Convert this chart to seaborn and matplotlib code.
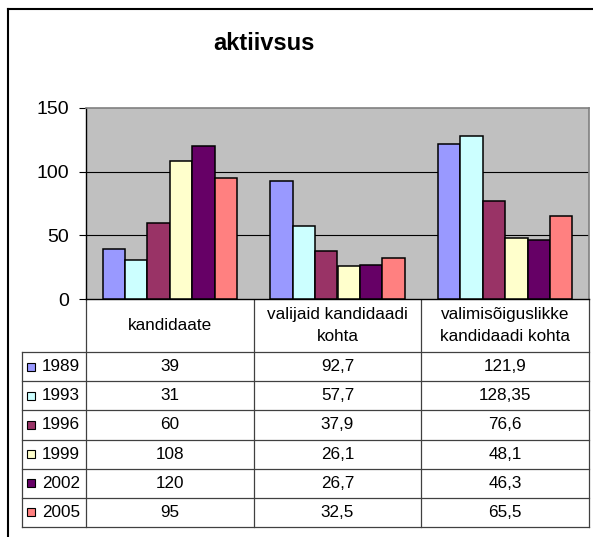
import numpy as np
import pandas as pd
import seaborn as sns
import matplotlib.pyplot as plt
from matplotlib.patches import Rectangle

plt.rcParams["font.family"] = ["Liberation Sans", "DejaVu Sans"]

W, H = 593, 537

categories = ["kandidaate", "valijaid kandidaadi\nkohta", "valimisõiguslikke\nkandidaadi kohta"]
years = ["1989", "1993", "1996", "1999", "2002", "2005"]
kandidaate = [39, 31, 60, 108, 120, 95]
valijaid = [92.7, 57.7, 37.9, 26.1, 26.7, 32.5]
valimisoiguslikke = [121.9, 128.35, 76.6, 48.1, 46.3, 65.5]
colors = ["#9999FF", "#CCFFFF", "#993366", "#FFFFCC", "#660066", "#FF8080"]

series = [kandidaate, valijaid, valimisoiguslikke]
df = pd.DataFrame({
    "kategooria": np.repeat(categories, len(years)),
    "aasta": years * len(categories),
    "vaartus": np.concatenate(series),
})

fig = plt.figure(figsize=(W / 100, H / 100), dpi=100)

# bar area, placed in pixel coords of the reference
x0, x1, ytop, ybot = 86, 589, 108, 299
ax = fig.add_axes([x0 / W, 1 - ybot / H, (x1 - x0) / W, (ybot - ytop) / H])
ax.set_facecolor("#C0C0C0")
sns.barplot(data=df, x="kategooria", y="vaartus", hue="aasta",
            order=categories, hue_order=years, palette=dict(zip(years, colors)),
            saturation=1, errorbar=None, edgecolor="black", linewidth=1.1,
            legend=False, ax=ax, zorder=3)
ax.set_ylim(0, 150)
ax.set_xlim(-0.5, 2.5)
ax.set_yticks([0, 50, 100, 150])
ax.tick_params(axis="y", labelsize=14, length=5, width=0.8, pad=7, color="black")
ax.tick_params(axis="x", bottom=False, labelbottom=False)
ax.set_xlabel("")
ax.set_ylabel("")
for v in [50, 100]:
    ax.axhline(v, color="black", lw=0.8, zorder=1)
for s in ["top", "right"]:
    ax.spines[s].set_color("#808080")
    ax.spines[s].set_linewidth(1.2)
for s in ["left", "bottom"]:
    ax.spines[s].set_color("black")
    ax.spines[s].set_linewidth(1)

# overlay in pixel coordinates for the frame, title and data table
ov = fig.add_axes([0, 0, 1, 1], zorder=-1)
ov.set_xlim(0, W)
ov.set_ylim(H, 0)
ov.axis("off")

ov.plot([8, 8], [9, H], color="black", lw=1.5)
ov.plot([8, W], [9, 9], color="black", lw=1.5)
ov.text(264, 44, "aktiivsus", ha="center", va="center", fontsize=17, fontweight="bold")

lc = "#404040"
cols = [x0 + (x1 - x0) * k / 3 for k in range(4)]
row_top = 352
row_h = (527 - row_top) / 6
for cx in cols:
    ov.plot([cx, cx], [ybot, 527], color=lc, lw=0.9)
ov.plot([22, 22], [row_top, 527], color=lc, lw=0.9)
for r in range(7):
    yy = row_top + r * row_h
    ov.plot([22, x1], [yy, yy], color=lc, lw=0.9)

for k, cat in enumerate(categories):
    cx = (cols[k] + cols[k + 1]) / 2
    ov.text(cx, (ybot + row_top) / 2, cat, ha="center", va="center",
            fontsize=12.3, linespacing=1.6)

for r, (yr, c) in enumerate(zip(years, colors)):
    cy = row_top + (r + 0.5) * row_h
    ov.add_patch(Rectangle((27, cy - 4), 8, 8, facecolor=c, edgecolor="black", lw=0.8))
    ov.text(42, cy, yr, ha="left", va="center", fontsize=12.3)
    for k, vals in enumerate(series):
        cx = (cols[k] + cols[k + 1]) / 2
        ov.text(cx, cy, f"{vals[r]:g}".replace(".", ","), ha="center", va="center",
                fontsize=12.3)

fig.savefig("out.png", dpi=100)
